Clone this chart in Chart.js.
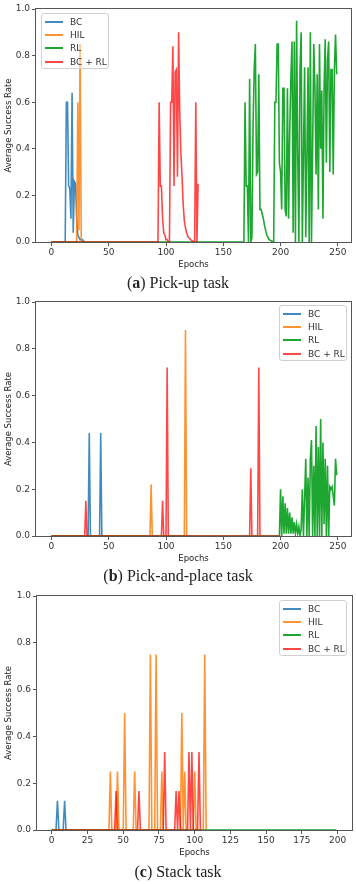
<!DOCTYPE html>
<html><head><meta charset="utf-8">
<script src="https://cdn.jsdelivr.net/npm/chart.js@4.4.0/dist/chart.umd.min.js"></script>
<style>
html,body{margin:0;padding:0;background:#fff;}
body{width:356px;height:884px;position:relative;overflow:hidden;font-family:"DejaVu Sans",sans-serif;}
.wrap{position:absolute;left:0;width:356px;}
.wrap canvas{display:block;}
.legend{position:absolute;border:1px solid #d0d0d0;border-radius:3px;background:rgba(255,255,255,0.45);width:68px;height:56px;box-sizing:border-box;}
.legend .sw{position:absolute;left:3px;width:18px;height:2px;}
.legend .lb{position:absolute;left:28px;font-size:9px;line-height:12px;color:#333;white-space:nowrap;}
.cap{position:absolute;left:0;width:356px;text-align:center;font-family:"Liberation Serif",serif;font-size:16px;line-height:20px;color:#222;}
</style></head><body>
<div class="wrap" style="top:0;height:274px"><canvas id="ca" width="356" height="274"></canvas></div>
<div class="cap" style="top:273px">(<b>a</b>) Pick-up task</div>
<div class="wrap" style="top:293px;height:275px"><canvas id="cb" width="356" height="275"></canvas></div>
<div class="cap" style="top:566px">(<b>b</b>) Pick-and-place task</div>
<div class="wrap" style="top:587px;height:275px"><canvas id="cc" width="356" height="275"></canvas></div>
<div class="cap" style="top:862px">(<b>c</b>) Stack task</div>
<script>
const seriesNames = ['BC', 'HIL', 'RL', 'BC + RL'];
const seriesColors = ['rgba(31,119,180,0.85)', 'rgba(255,127,14,0.85)', 'rgba(10,160,30,0.92)', 'rgba(255,0,0,0.72)'];
const yTicks = [0, 0.2, 0.4, 0.6, 0.8, 1.0];
const xTicksAB = [0, 50, 100, 150, 200, 250];
const xTicksC = [0, 25, 50, 75, 100, 125, 150, 175, 200];

// ---- (a) Pick-up task : value per epoch, index = epoch ----
const bcA = [
0,0,0,0,0,0,0,0,0,0,
0,0,0,0.6,0.6,0.24,0.23,0.1,0.64,0.04,
0.26,0.25,0.1,0.03,0.02,0.01,0.01,0.01,0.005,0];
const hilA = [
0,0,0,0,0,0,0,0,0,0,
0,0,0,0,0,0,0,0,0,0,
0,0,0,0.6,0.05,0.85,0.01,0];
const rlA = [
0,0,0,0,0,0,0,0,0,0, 0,0,0,0,0,0,0,0,0,0,
0,0,0,0,0,0,0,0,0,0, 0,0,0,0,0,0,0,0,0,0,
0,0,0,0,0,0,0,0,0,0, 0,0,0,0,0,0,0,0,0,0,
0,0,0,0,0,0,0,0,0,0, 0,0,0,0,0,0,0,0,0,0,
0,0,0,0,0,0,0,0,0,0, 0,0,0,0,0,0,0,0,0,0,
0,0,0,0,0,0,0,0,0,0, 0,0,0,0,0,0,0,0,0,0,
0,0,0,0,0,0,0,0,0,0, 0,0,0,0,0,0,0,0,0,0,
0,0,0,0,0,0,0,0,0,0, 0,0,0,0,0,0,0,0,0,0,
0,0,0,0,0,0,0,0,0,0.6,0.24,0.24,0,0.7,0,0.02,0.5,0.74,
0.85,0.29,0.3,0.72,0.14,0.14,0.12,0.1,0.07,0.05,
0.03,0.02,0.01,0.008,0.004,0.002,0,0.6,0.6,0.85,
0.85,0.34,0.3,0.14,0.66,0.66,0.14,0.11,0.66,0.1,
0.47,0.7,0.86,0.04,0.86,0,0.95,0.38,0,0.75,
0.9,0,0.37,0.75,0.02,0.37,0.75,0,0.9,0,
0.4,0.85,0.66,0.29,0.72,0.14,0.85,0.4,0.65,0.1,
0.66,0.87,0.34,0.78,0.86,0.3,0.74,0.74,0.29,0.74,
0.89,0.72];
const bcrlA = [
0,0,0,0,0,0,0,0,0,0, 0,0,0,0,0,0,0,0,0,0,
0,0,0,0,0,0,0,0,0,0, 0,0,0,0,0,0,0,0,0,0,
0,0,0,0,0,0,0,0,0,0, 0,0,0,0,0,0,0,0,0,0,
0,0,0,0,0,0,0,0,0,0, 0,0,0,0,0,0,0,0,0,0,
0,0,0,0,0,0,0,0,0,0, 0,0,0,0,
0.6,0.24,0.24,0.1,0.04,0.03,0.01,0.01,0,0,
0.6,0.6,0.84,0.24,0.73,0.74,0.28,0.9,0.55,0.38,
0.28,0.16,0.09,0.06,0.04,0.025,0.018,0.012,0.008,0.005,
0.002,0,0.6,0,0.25];

// ---- (b) Pick-and-place task ----
const bcB = [
0,0,0,0,0,0,0,0,0,0, 0,0,0,0,0,0,0,0,0,0, 0,0,0,0,0,0,0,0,0,0,
0,0,0,0.44,0,0,0,0,0,0,
0,0,0,0.44,0,0,0,0,0,0];
const hilB = [
0,0,0,0,0,0,0,0,0,0, 0,0,0,0,0,0,0,0,0,0,
0,0,0,0,0,0,0,0,0,0, 0,0,0,0,0,0,0,0,0,0,
0,0,0,0,0,0,0,0,0,0, 0,0,0,0,0,0,0,0,0,0,
0,0,0,0,0,0,0,0,0,0, 0,0,0,0,0,0,0,0,0,0,
0,0,0,0,0,0,0,0.22,0,0,
0,0,0,0,0,0,0,0,0,0, 0,0,0,0,0,0,0,0,0,0,
0,0,0,0,0,0,0,0.88,0,0,
0];
const rlB = [
0,0,0,0,0,0,0,0,0,0, 0,0,0,0,0,0,0,0,0,0,
0,0,0,0,0,0,0,0,0,0, 0,0,0,0,0,0,0,0,0,0,
0,0,0,0,0,0,0,0,0,0, 0,0,0,0,0,0,0,0,0,0,
0,0,0,0,0,0,0,0,0,0, 0,0,0,0,0,0,0,0,0,0,
0,0,0,0,0,0,0,0,0,0, 0,0,0,0,0,0,0,0,0,0,
0,0,0,0,0,0,0,0,0,0, 0,0,0,0,0,0,0,0,0,0,
0,0,0,0,0,0,0,0,0,0, 0,0,0,0,0,0,0,0,0,0,
0,0,0,0,0,0,0,0,0,0, 0,0,0,0,0,0,0,0,0,0,
0,0,0,0,0,0,0,0,0,0, 0,0,0,0,0,0,0,0,0,0,
0,0,0,0,0,0,0,0,0,0, 0,0,0,0,0,0,0,0,0,0,
0.2,0,0.17,0.01,0.14,0.01,0.12,0.01,0.1,0.01,
0.08,0.01,0.06,0.01,0.05,0.01,0.04,0,0.03,0.2,
0,0.16,0.33,0,0.25,0,0.33,0.41,0,0.3,
0,0.47,0,0.38,0,0.5,0,0.4,0.05,0.33,
0,0.3,0,0.21,0.2,0.21,0.17,0.13,0.33,0.26];
const bcrlB = [
0,0,0,0,0,0,0,0,0,0, 0,0,0,0,0,0,0,0,0,0, 0,0,0,0,0,0,0,0,0,0,
0.15,0,0,0,0,0,0,0,0,0,
0,0,0,0,0,0,0,0,0,0, 0,0,0,0,0,0,0,0,0,0,
0,0,0,0,0,0,0,0,0,0, 0,0,0,0,0,0,0,0,0,0,
0,0,0,0,0,0,0,0,0,0,
0,0,0,0,0,0,0,0.15,0,0,
0,0.72,0,0,0,0,0,0,0,0,
0,0,0,0,0,0,0,0,0,0, 0,0,0,0,0,0,0,0,0,0,
0,0,0,0,0,0,0,0,0,0, 0,0,0,0,0,0,0,0,0,0,
0,0,0,0,0,0,0,0,0,0, 0,0,0,0,0,0,0,0,0,0,
0,0,0,0,0.29,0,0,0,0,0,
0,0.72,0,0,0,0,0,0,0,0,
0,0,0,0,0,0,0,0,0,0];

// ---- (c) Stack task ----
const bcC = [0,0,0,0,0.125,0,0,0,0,0.125,0,0];
const hilC = [
0,0,0,0,0,0,0,0,0,0, 0,0,0,0,0,0,0,0,0,0,
0,0,0,0,0,0,0,0,0,0, 0,0,0,0,0,0,0,0,0,0,
0,0.25,0,0,0,0,0.25,0,0,0,
0,0.5,0,0,0,0,0,0,0.25,0,
0,0,0,0,0,0,0,0,0,0.75,
0,0,0,0.75,0,0,0,0.25,0,0,
0,0,0,0,0,0,0,0,0,0,
0,0.5,0,0.25,0,0,0,0,0,0,
0.25,0,0,0,0,0,0,0.75,0];
const rlC = [
0,0,0,0,0,0,0,0,0,0, 0,0,0,0,0,0,0,0,0,0,
0,0,0,0,0,0,0,0,0,0, 0,0,0,0,0,0,0,0,0,0,
0,0,0,0,0,0,0,0,0,0, 0,0,0,0,0,0,0,0,0,0,
0,0,0,0,0,0,0,0,0,0, 0,0,0,0,0,0,0,0,0,0,
0,0,0,0,0,0,0,0,0,0, 0,0,0,0,0,0,0,0,0,0,
0,0,0,0,0,0,0,0,0,0, 0,0,0,0,0,0,0,0,0,0,
0,0,0,0,0,0,0,0,0,0, 0,0,0,0,0,0,0,0,0,0,
0,0,0,0,0,0,0,0,0,0, 0,0,0,0,0,0,0,0,0,0,
0,0,0,0,0,0,0,0,0,0, 0,0,0,0,0,0,0,0,0,0,
0,0,0,0,0,0,0,0,0,0, 0,0,0,0,0,0,0,0,0,0];
const bcrlC = [
0,0,0,0,0,0,0,0,0,0, 0,0,0,0,0,0,0,0,0,0,
0,0,0,0,0,0,0,0,0,0, 0,0,0,0,0,0,0,0,0,0,
0,0,0,0,0,0.167,0,0,0,0,
0,0,0,0,0,0,0,0,0,0,
0,0.167,0,0,0,0,0,0,0,0,
0,0,0,0,0,0,0,0,0,0.333,
0,0,0,0,0,0,0,0.167,0,0.167,
0,0,0,0,0,0,0.333,0,0.333,0,
0,0,0,0.333,0];

const FONT = 'DejaVu Sans';
const frame = {
  id: 'frame',
  beforeDatasetsDraw(chart) {
    const a = chart.chartArea, ctx = chart.ctx;
    ctx.save();
    ctx.strokeStyle = '#555';
    ctx.lineWidth = 1;
    ctx.strokeRect(Math.round(a.left) - 0.5, Math.round(a.top) - 0.5,
                   Math.round(a.right - a.left) + 1, Math.round(a.bottom - a.top) + 1);
    ctx.restore();
  }
};

function build(id, sets, cfg) {
  return new Chart(document.getElementById(id), {
    type: 'line',
    data: {
      datasets: sets.map((vals, k) => ({
        label: seriesNames[k],
        data: vals.map((v, i) => ({x: i, y: v})),
        borderColor: seriesColors[k],
        backgroundColor: seriesColors[k],
        borderWidth: 1.6,
        pointRadius: 0,
        tension: 0,
        fill: false,
        order: 4 - k
      }))
    },
    options: {
      responsive: false,
      animation: false,
      events: [],
      layout: {padding: {top: 9, right: cfg.padR, left: 0, bottom: 0}},
      plugins: {legend: {display: false}, tooltip: {enabled: false}},
      scales: {
        x: {
          type: 'linear', min: cfg.xMin, max: cfg.xMax,
          afterBuildTicks: s => { s.ticks = cfg.xTicks.map(v => ({value: v})); },
          afterFit: s => { s.height = cfg.xH; },
          ticks: {callback: v => String(v), font: {family: FONT, size: 9}, color: '#333', padding: 1, maxRotation: 0, autoSkip: false},
          grid: {drawOnChartArea: false, drawTicks: true, tickLength: 4, color: '#555'},
          border: {display: false},
          title: {display: true, text: 'Epochs', font: {family: FONT, size: 8.5}, color: '#222', padding: {top: 0, bottom: 4}}
        },
        y: {
          type: 'linear', min: 0, max: 1,
          afterBuildTicks: s => { s.ticks = yTicks.map(v => ({value: v})); },
          afterFit: s => { s.width = cfg.yW; },
          ticks: {callback: v => v.toFixed(1), font: {family: FONT, size: 9}, color: '#333', padding: 2},
          grid: {drawOnChartArea: false, drawTicks: true, tickLength: 4, color: '#555'},
          border: {display: false},
          title: {display: true, text: 'Average Success Rate', font: {family: FONT, size: 8.5}, color: '#222', padding: {top: 4, bottom: 0}}
        }
      }
    },
    plugins: [frame]
  });
}

function legend(left, top) {
  const box = document.createElement('div');
  box.className = 'legend';
  box.style.left = left + 'px';
  box.style.top = top + 'px';
  seriesNames.forEach((name, k) => {
    const cy = 7.5 + 13.4 * k;
    const sw = document.createElement('div');
    sw.className = 'sw';
    sw.style.top = (cy - 1) + 'px';
    sw.style.background = seriesColors[k];
    const lb = document.createElement('div');
    lb.className = 'lb';
    lb.style.top = (cy - 6) + 'px';
    lb.textContent = name;
    box.appendChild(sw);
    box.appendChild(lb);
  });
  document.body.appendChild(box);
}

build('ca', [bcA, hilA, rlA, bcrlA], {xMin: -13.5, xMax: 261.5, xTicks: xTicksAB, yW: 36, padR: 5, xH: 32});
build('cb', [bcB, hilB, rlB, bcrlB], {xMin: -13.5, xMax: 261.5, xTicks: xTicksAB, yW: 36, padR: 5, xH: 32});
build('cc', [bcC, hilC, rlC, bcrlC], {xMin: -10.3, xMax: 210, xTicks: xTicksC, yW: 37, padR: 4, xH: 32});
legend(41, 13);
legend(279, 305);
legend(279, 600);
</script>
</body></html>
